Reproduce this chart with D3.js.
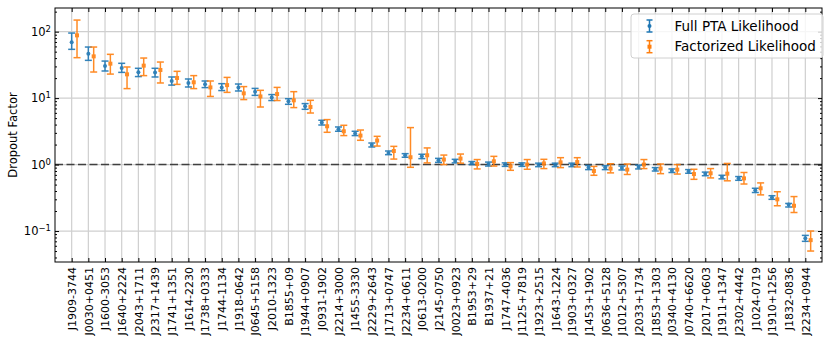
<!DOCTYPE html>
<html>
<head>
<meta charset="utf-8">
<script src="https://cdn.jsdelivr.net/npm/d3@7"></script>
<style>
  body { margin: 0; background: #fff; }
  svg text { font-family: "DejaVu Sans", sans-serif; }
</style>
</head>
<body>
<script>
// pulsar names, in the plotted order
var pulsars = ["J1909-3744", "J0030+0451", "J1600-3053", "J1640+2224", "J2043+1711", "J2317+1439",
  "J1741+1351", "J1614-2230", "J1738+0333", "J1744-1134", "J1918-0642", "J0645+5158", "J2010-1323",
  "B1855+09", "J1944+0907", "J0931-1902", "J2214+3000", "J1455-3330", "J2229+2643", "J1713+0747",
  "J2234+0611", "J0613-0200", "J2145-0750", "J0023+0923", "B1953+29", "B1937+21", "J1747-4036",
  "J1125+7819", "J1923+2515", "J1643-1224", "J1903+0327", "J1453+1902", "J0636+5128", "J1012+5307",
  "J2033+1734", "J1853+1303", "J0340+4130", "J0740+6620", "J2017+0603", "J1911+1347", "J2302+4442",
  "J1024-0719", "J1910+1256", "J1832-0836", "J2234+0944"];

// Full PTA likelihood
var fullMid = [69.0, 46.7, 30.4, 28.4, 24.4, 24.2, 18.1, 16.9, 16.1, 14.5, 14.4, 12.5, 10.2, 8.95, 7.53,
  4.28, 3.40, 2.93, 1.97, 1.49, 1.38, 1.33, 1.16, 1.13, 1.06, 1.02, 1.00, 1.00, 0.99, 0.99, 0.99, 0.90,
  0.90, 0.89, 0.92, 0.85, 0.81, 0.79, 0.73, 0.65, 0.62, 0.41, 0.32, 0.25, 0.078];
var fullLo = [54.2, 37.0, 25.6, 24.4, 21.1, 20.8, 15.7, 14.7, 14.4, 13.0, 12.8, 11.0, 9.2, 8.07, 6.79,
  3.94, 3.17, 2.73, 1.84, 1.41, 1.29, 1.23, 1.08, 1.06, 1.00, 0.95, 0.94, 0.94, 0.93, 0.93, 0.93, 0.84,
  0.84, 0.83, 0.86, 0.80, 0.76, 0.74, 0.68, 0.61, 0.58, 0.38, 0.30, 0.23, 0.070];
var fullHi = [95.3, 58.7, 36.1, 33.4, 28.1, 28.1, 20.8, 19.4, 18.1, 16.5, 16.3, 14.0, 11.3, 9.8, 8.27,
  4.64, 3.68, 3.17, 2.11, 1.60, 1.46, 1.43, 1.24, 1.20, 1.11, 1.09, 1.06, 1.06, 1.05, 1.05, 1.05, 0.97,
  0.96, 0.95, 0.98, 0.90, 0.86, 0.84, 0.77, 0.69, 0.66, 0.44, 0.34, 0.26, 0.086];

// Factorized likelihood
var factMid = [88.0, 42.5, 33.0, 22.8, 30.8, 26.5, 20.1, 17.3, 14.5, 15.7, 11.8, 10.6, 11.5, 9.27, 7.35,
  3.77, 3.17, 2.73, 2.30, 1.60, 1.29, 1.38, 1.19, 1.23, 1.02, 1.12, 0.94, 1.00, 1.04, 1.08, 1.09, 0.80,
  0.87, 0.84, 1.00, 0.87, 0.84, 0.72, 0.74, 0.73, 0.62, 0.44, 0.30, 0.24, 0.073];
var factLo = [40.6, 24.7, 23.0, 13.9, 21.8, 16.9, 16.1, 13.9, 10.6, 12.2, 9.5, 7.35, 9.2, 7.2, 5.97,
  3.06, 2.73, 2.32, 1.90, 1.21, 0.91, 1.06, 1.00, 1.05, 0.86, 0.95, 0.82, 0.85, 0.87, 0.90, 0.92, 0.69,
  0.75, 0.71, 0.87, 0.73, 0.72, 0.60, 0.63, 0.57, 0.51, 0.35, 0.24, 0.19, 0.050];
var factHi = [149.4, 58.7, 45.6, 29.4, 40.1, 34.9, 25.3, 21.8, 18.1, 20.5, 14.9, 13.1, 14.5, 12.5, 9.27,
  4.75, 3.90, 3.31, 2.66, 1.88, 3.60, 1.78, 1.39, 1.44, 1.19, 1.33, 1.07, 1.19, 1.20, 1.27, 1.27, 0.94,
  1.03, 1.02, 1.19, 1.02, 1.00, 0.85, 0.87, 1.04, 0.76, 0.53, 0.39, 0.33, 0.10];

var yMajor = [0.1, 1, 10, 100];
var yExp = ["\u22121", "0", "1", "2"];
var seriesNames = ["Full PTA Likelihood", "Factorized Likelihood"];

var FONT = "DejaVu Sans, sans-serif";
var W = 831, H = 346;
var margin = {top: 8, right: 9, bottom: 84, left: 55},
    width = W - margin.left - margin.right,
    height = H - margin.top - margin.bottom;

var blue = "#1f77b4", orange = "#ff7f0e";

var svg = d3.select("body").append("svg")
    .attr("width", W)
    .attr("height", H)
  .append("g")
    .attr("transform", "translate(" + margin.left + "," + margin.top + ")");

var x = d3.scaleLinear().domain([-1, pulsars.length]).range([0, width]);
var y = d3.scaleLog().domain([0.0342, 227]).range([height, 0]);

// minor tick values inside the domain
var yMinor = [];
[0.01, 0.1, 1, 10, 100].forEach(function(dec) {
    for (var k = 2; k <= 9; k++) {
        var v = dec * k;
        if (v > y.domain()[0] && v < y.domain()[1]) yMinor.push(v);
    }
});

// grid
svg.append("g").selectAll("line.vg")
    .data(pulsars)
  .enter().append("line")
    .attr("x1", function(d, i) { return x(i); })
    .attr("x2", function(d, i) { return x(i); })
    .attr("y1", 0).attr("y2", height)
    .style("stroke", "#cfcfcf").style("stroke-width", 1.2);

svg.append("g").selectAll("line.hg")
    .data(yMajor)
  .enter().append("line")
    .attr("x1", 0).attr("x2", width)
    .attr("y1", function(d) { return y(d); })
    .attr("y2", function(d) { return y(d); })
    .style("stroke", "#cfcfcf").style("stroke-width", 1.2);

// reference line at 1
svg.append("line")
    .attr("x1", 0).attr("x2", width)
    .attr("y1", y(1)).attr("y2", y(1))
    .style("stroke", "#404040")
    .style("stroke-width", 1.5)
    .style("stroke-dasharray", "8,3.5");

// error bars
function drawSeries(mid, lo, hi, color, offset, square) {
    var g = svg.append("g").style("opacity", 0.9);
    var rows = mid.map(function(m, i) { return {i: i, m: m, lo: lo[i], hi: hi[i]}; });
    var bars = g.selectAll("g.bar").data(rows).enter().append("g");
    var cx = function(d) { return x(d.i + offset); };
    bars.append("line")
        .attr("x1", cx).attr("x2", cx)
        .attr("y1", function(d) { return y(d.lo); })
        .attr("y2", function(d) { return y(d.hi); })
        .style("stroke", color).style("stroke-width", 1.5);
    ["lo", "hi"].forEach(function(k) {
        bars.append("line")
            .attr("x1", function(d) { return cx(d) - 3.5; })
            .attr("x2", function(d) { return cx(d) + 3.5; })
            .attr("y1", function(d) { return y(d[k]); })
            .attr("y2", function(d) { return y(d[k]); })
            .style("stroke", color).style("stroke-width", 1.5);
    });
    if (square) {
        bars.append("rect")
            .attr("x", function(d) { return cx(d) - 2; })
            .attr("y", function(d) { return y(d.m) - 2; })
            .attr("width", 4).attr("height", 4)
            .style("fill", color);
    } else {
        bars.append("circle")
            .attr("cx", cx)
            .attr("cy", function(d) { return y(d.m); })
            .attr("r", 2)
            .style("fill", color);
    }
}
drawSeries(fullMid, fullLo, fullHi, blue, 0, false);
drawSeries(factMid, factLo, factHi, orange, 0.32, true);

// axes
var xb = svg.append("g")
    .attr("transform", "translate(0," + height + ")")
    .call(d3.axisBottom(x).tickValues(d3.range(pulsars.length))
        .tickSize(-4).tickFormat(function(i) { return pulsars[i]; }));
xb.attr("font-family", FONT).attr("font-size", 11);
xb.selectAll("text")
    .attr("transform", "rotate(-90)")
    .attr("x", -5).attr("y", 0).attr("dy", "0.35em")
    .attr("text-anchor", "end")
    .style("font-family", FONT).style("font-size", "11px").style("fill", "#000");

svg.append("g")
    .call(d3.axisTop(x).tickValues(d3.range(pulsars.length)).tickSize(-4).tickFormat(""));

var yl = svg.append("g")
    .call(d3.axisLeft(y).tickValues(yMajor).tickSize(-4).tickPadding(4)
        .tickFormat(function() { return ""; }));
yl.selectAll(".tick text").each(function(d, i) {
    var t = d3.select(this).style("font-family", FONT).style("font-size", "11.5px").style("fill", "#000");
    t.append("tspan").text("10");
    t.append("tspan").attr("dy", "-0.45em").style("font-size", "8.5px").text(yExp[i]);
});
svg.append("g")
    .call(d3.axisLeft(y).tickValues(yMinor).tickSize(-2).tickFormat(""));

svg.append("g")
    .attr("transform", "translate(" + width + ",0)")
    .call(d3.axisRight(y).tickValues(yMajor).tickSize(-4).tickFormat(""));
svg.append("g")
    .attr("transform", "translate(" + width + ",0)")
    .call(d3.axisRight(y).tickValues(yMinor).tickSize(-2).tickFormat(""));

svg.selectAll(".domain").remove();
svg.selectAll(".tick line").style("stroke", "#000");

// frame
svg.append("rect")
    .attr("width", width).attr("height", height)
    .style("fill", "none").style("stroke", "#000").style("stroke-width", 1);

// y label
svg.append("text")
    .attr("transform", "rotate(-90)")
    .attr("x", -height / 2)
    .attr("y", 13 - margin.left)
    .attr("dy", "0.35em")
    .style("text-anchor", "middle")
    .style("font-family", FONT)
    .style("font-size", "11.5px")
    .text("Dropout Factor");

// legend
var lg = svg.append("g").attr("transform", "translate(" + (width - 191) + ",6)");
lg.append("rect")
    .attr("width", 192).attr("height", 44).attr("rx", 3)
    .style("fill", "#fff").style("fill-opacity", 0.8)
    .style("stroke", "#d0d0d0");
var items = lg.selectAll("g.item")
    .data(seriesNames)
  .enter().append("g")
    .attr("transform", function(d, i) { return "translate(18.5," + (12 + i * 20.7) + ")"; });
items.each(function(d, i) {
    var g = d3.select(this), c = i === 0 ? blue : orange;
    g.append("line").attr("x1", 0).attr("x2", 0).attr("y1", -6).attr("y2", 6)
        .style("stroke", c).style("stroke-width", 1.5);
    [-6, 6].forEach(function(yy) {
        g.append("line").attr("x1", -3).attr("x2", 3).attr("y1", yy).attr("y2", yy)
            .style("stroke", c).style("stroke-width", 1.5);
    });
    if (i === 0) g.append("circle").attr("r", 2).style("fill", c);
    else g.append("rect").attr("x", -2).attr("y", -2).attr("width", 4).attr("height", 4).style("fill", c);
});
items.append("text")
    .attr("x", 25).attr("dy", "0.35em")
    .style("font-family", FONT)
    .style("font-size", "13.5px")
    .text(function(d) { return d; });
</script>
</body>
</html>
